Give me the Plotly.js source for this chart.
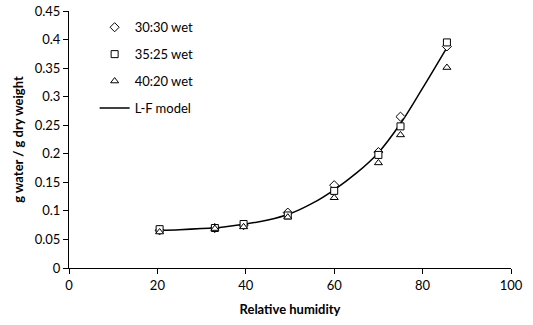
<!DOCTYPE html>
<html><head><meta charset="utf-8">
<script src="https://cdn.plot.ly/plotly-3.0.1.min.js"></script>
<style>html,body{margin:0;padding:0;background:#fff}#chart{width:533px;height:325px}</style>
</head><body><div id="chart"></div>
<script>
const rh = [20.5, 33, 39.5, 49.5, 60, 70, 75, 85.5];
const wet3030 = [0.066, 0.070, 0.075, 0.097, 0.145, 0.203, 0.265, 0.388];
const wet3525 = [0.068, 0.070, 0.077, 0.092, 0.135, 0.198, 0.248, 0.395];
const wet4020 = [0.063, 0.069, 0.072, 0.089, 0.123, 0.184, 0.233, 0.351];
const modelRh = [20.5, 25, 30, 35, 40, 45, 50, 55, 60, 65, 70, 75, 80, 85.5];
const modelVal = [0.066, 0.067, 0.069, 0.072, 0.077, 0.084, 0.095, 0.113, 0.137, 0.166, 0.202, 0.253, 0.315, 0.386];
const font = "Lato, Open Sans, sans-serif";
const mk = (sym) => ({symbol: sym, size: 7, color: '#fff', line: {color: '#000', width: 1}});
const traces = [
  {x: modelRh, y: modelVal, mode: 'lines', name: 'L-F model', line: {color: '#000', width: 1.5, shape: 'spline'}, legendgroup: 'd', legendrank: 4},
  {x: rh, y: wet3030, mode: 'markers', name: '30:30 wet', marker: mk('diamond'), legendgroup: 'a', legendrank: 1},
  {x: rh, y: wet3525, mode: 'markers', name: '35:25 wet', marker: mk('square'), legendgroup: 'b', legendrank: 2},
  {x: rh, y: wet4020, mode: 'markers', name: '40:20 wet', marker: mk('triangle-up'), legendgroup: 'c', legendrank: 3}
];
const layout = {
  width: 533, height: 325,
  margin: {l: 69, r: 22, t: 11, b: 57},
  paper_bgcolor: '#fff', plot_bgcolor: '#fff',
  font: {family: font, size: 13, color: '#000'},
  showlegend: true,
  legend: {x: 0.058, y: 0.995, xanchor: 'left', yanchor: 'top', bgcolor: 'rgba(0,0,0,0)', tracegroupgap: 7, font: {size: 13}},
  xaxis: {range: [0, 100], dtick: 20, showgrid: false, zeroline: false, showline: true, linecolor: '#000', linewidth: 1,
    ticks: 'outside', ticklen: 5, tickcolor: '#000', tickfont: {size: 13},
    title: {text: '<b>Relative humidity</b>', font: {size: 13}, standoff: 13}},
  yaxis: {range: [0, 0.45], dtick: 0.05, showgrid: false, zeroline: false, showline: true, linecolor: '#000', linewidth: 1,
    ticks: 'outside', ticklen: 5, tickcolor: '#000', tickfont: {size: 13},
    title: {text: '<b>g water / g dry weight</b>', font: {size: 13}, standoff: 8}}
};
Plotly.newPlot('chart', traces, layout, {displayModeBar: false, staticPlot: true});
</script></body></html>
